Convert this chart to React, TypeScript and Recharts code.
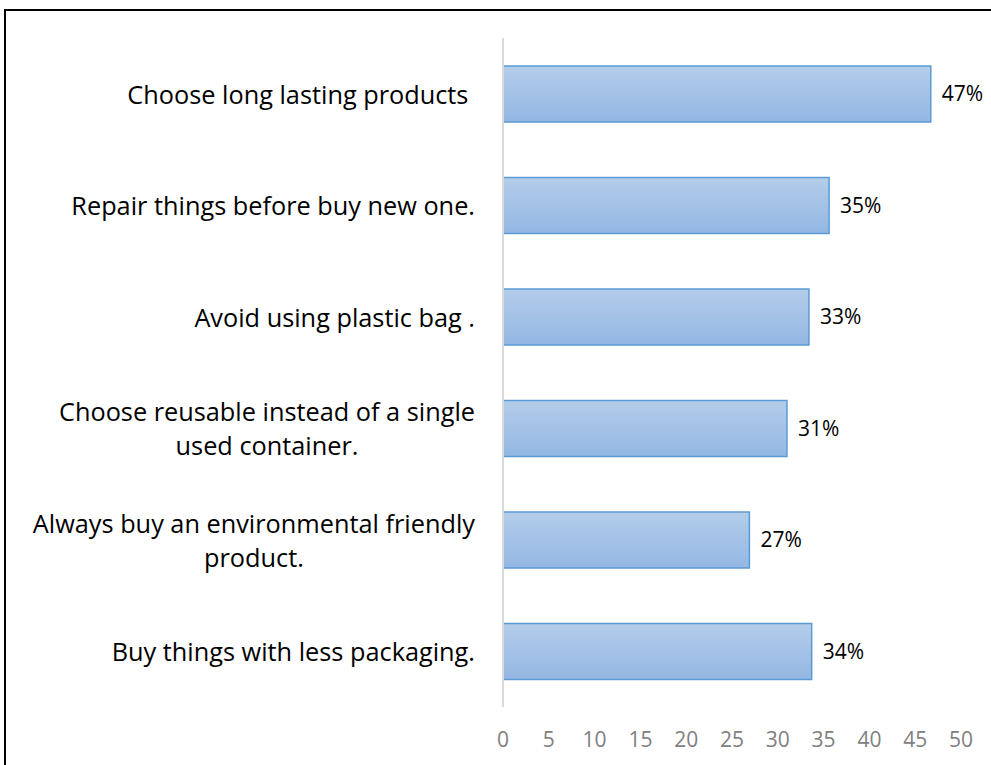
import { BarChart, Bar, XAxis, YAxis, LabelList } from 'recharts'

const categories = [
  'Choose long lasting products ',
  'Repair things before buy new one.',
  'Avoid using plastic bag .',
  'Choose reusable instead of a single used container.',
  'Always buy an environmental friendly product.',
  'Buy things with less packaging.',
]
const values = [46.7, 35.6, 33.4, 31.0, 26.9, 33.7]
const valueLabels = ['47%', '35%', '33%', '31%', '27%', '34%']
const xTicks = [0, 5, 10, 15, 20, 25, 30, 35, 40, 45, 50]

const data = categories.map((name, i) => ({ name, value: values[i], label: valueLabels[i] }))

const FONT = '"Open Sans", "Noto Sans", sans-serif'
const CAT_SIZE = 25.3

let ctx: CanvasRenderingContext2D | null = null
const measure = (s: string) => {
  if (!ctx) ctx = document.createElement('canvas').getContext('2d')
  if (!ctx) return s.length * CAT_SIZE * 0.5
  ctx.font = `${CAT_SIZE}px ${FONT}`
  return ctx.measureText(s).width
}

// Excel-style wrapping: break at ~36 chars
const wrap = (s: string, max = 36) => {
  const lines: string[] = []
  let cur = ''
  for (const w of s.split(' ')) {
    const next = cur ? cur + ' ' + w : w
    if (next.length > max && cur) {
      lines.push(cur)
      cur = w
    } else cur = next
  }
  if (cur) lines.push(cur)
  return lines
}

const CategoryTick = ({ x, y, payload }: any) => {
  const lines = wrap(payload.value)
  const block = Math.max(...lines.map(measure))
  const cx = x - block / 2
  const lh = 34
  return (
    <g>
      {lines.map((l, i) => (
        <text
          key={i}
          x={cx}
          y={y + (i - (lines.length - 1) / 2) * lh}
          textAnchor="middle"
          dominantBaseline="central"
          fontSize={CAT_SIZE}
          fontFamily={FONT}
          fill="#000"
          style={{ whiteSpace: 'pre' }}
        >
          {l}
        </text>
      ))}
    </g>
  )
}

export default function App() {
  return (
    <div style={{ position: 'fixed', left: 0, top: 0, width: 991, height: 765, overflow: 'hidden', background: '#fff' }}>
      <div style={{ position: 'absolute', left: 4, top: 9, width: 1100, height: 900, borderLeft: '2px solid #000', borderTop: '2px solid #000' }} />
      <div style={{ position: 'absolute', left: 0, top: 0 }}>
        <BarChart
          width={991}
          height={765}
          data={data}
          layout="vertical"
          margin={{ top: 38, right: 30, bottom: 0, left: 0 }}
          barSize={56}
        >
          <defs>
            <linearGradient id="barFill" x1="0" y1="0" x2="0" y2="1">
              <stop offset="0%" stopColor="#b4cdea" />
              <stop offset="100%" stopColor="#93b7e3" />
            </linearGradient>
          </defs>
          <XAxis
            type="number"
            domain={[0, 50]}
            ticks={xTicks}
            axisLine={false}
            tickLine={false}
            tickMargin={19}
            height={58}
            tick={{ fontSize: 21, fill: '#808080', fontFamily: FONT }}
          />
          <YAxis
            type="category"
            dataKey="name"
            width={503}
            axisLine={{ stroke: '#d9d9d9', strokeWidth: 2 }}
            tickLine={false}
            tickMargin={22}
            tick={<CategoryTick />}
            interval={0}
          />
          <Bar dataKey="value" fill="url(#barFill)" stroke="#5b9bd5" strokeWidth={1.5} isAnimationActive={false}>
            <LabelList dataKey="label" position="right" offset={11} fontSize={21} fill="#000" fontFamily={FONT} />
          </Bar>
        </BarChart>
      </div>
    </div>
  )
}
